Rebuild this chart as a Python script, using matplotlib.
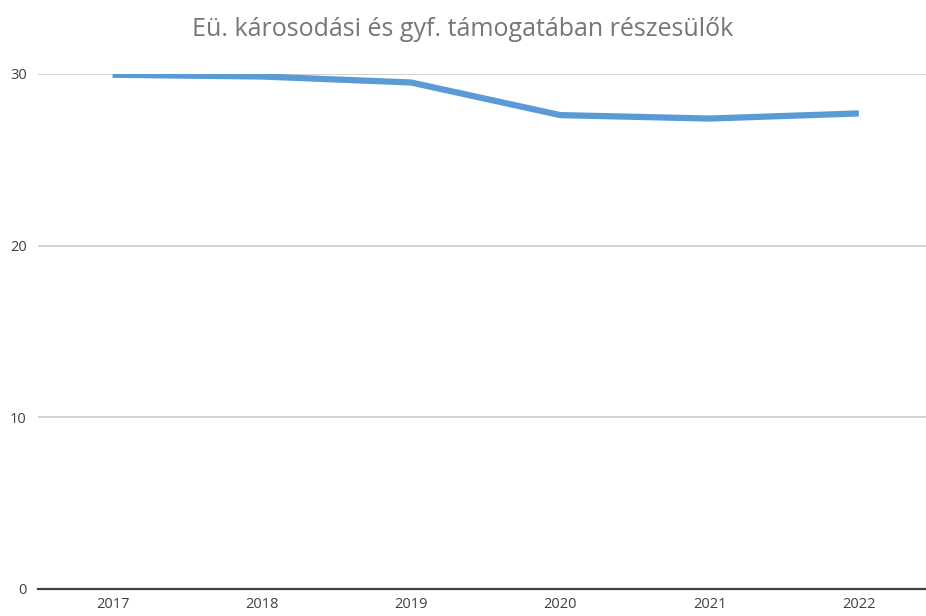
import matplotlib.pyplot as plt

years = ['2017', '2018', '2019', '2020', '2021', '2022']
values = [29.95, 29.85, 29.5, 27.6, 27.4, 27.7]
y_ticks = [0, 10, 20, 30]

plt.rcParams['font.family'] = ['Open Sans', 'DejaVu Sans']

fig = plt.figure(figsize=(9.26, 6.16), dpi=100)
ax = fig.add_axes([0.041, 0.044, 0.959, 0.836])

ax.plot(range(len(years)), values, color='#5b9bd5', linewidth=4.5, solid_capstyle='butt', zorder=3)

ax.set_xlim(-0.5, 5.45)
ax.set_ylim(0, 30)
ax.set_xticks(range(len(years)))
ax.set_xticklabels(years)
ax.set_yticks(y_ticks)

for s in ['left', 'right', 'top']:
    ax.spines[s].set_visible(False)
ax.spines['bottom'].set_color('#404040')
ax.spines['bottom'].set_linewidth(1.6)
ax.grid(axis='y', color='#cfcfcf', linewidth=1.3)
ax.set_axisbelow(True)
ax.tick_params(axis='both', length=0, labelsize=10.5, labelcolor='#404040')
ax.tick_params(axis='x', pad=6)
ax.tick_params(axis='y', pad=8)

fig.suptitle('Eü. károsodási és gyf. támogatában részesülők', y=0.972, fontsize=18, color='#767676')

fig.savefig('out.png', dpi=100)
